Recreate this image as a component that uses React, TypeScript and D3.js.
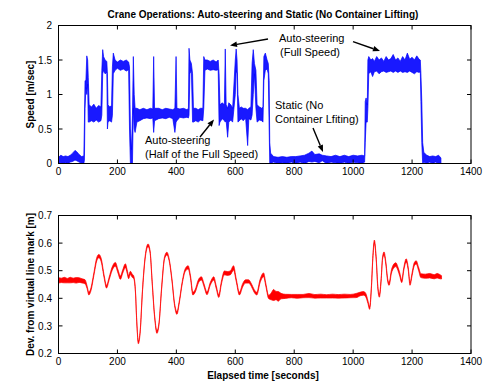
import React from "react";
import * as d3 from "d3";

// ---------- data ----------
const xTicks = [0, 200, 400, 600, 800, 1000, 1200, 1400];
const speedTicks = [0, 0.5, 1, 1.5, 2];
const devTicks = [0.2, 0.3, 0.4, 0.5, 0.6, 0.7];

// speed envelope: [time s, low m/s, high m/s]
const speedBand: [number, number, number][] = [
  [0,0.0,0.09],[8,0.01,0.12],[16,0.0,0.1],[24,0.01,0.11],[32,0.0,0.1],[40,0.02,0.12],[48,0.03,0.15],[56,0.05,0.19],[62,0.04,0.17],[70,0.02,0.13],[78,0.0,0.1],[86,0.0,0.11],
  [88,0.05,0.6],[90,0.8,1.2],[93,1.1,1.2],[96,1.0,1.56],[99,1.15,1.5],[101,0.6,1.25],
  [104,0.6,0.85],[112,0.62,0.82],[120,0.6,0.86],[128,0.63,0.8],[136,0.6,0.84],[144,0.62,0.82],
  [147,0.7,1.35],[150,1.3,1.65],[153,1.35,1.55],[158,1.3,1.5],[164,1.32,1.48],
  [166,0.5,1.3],[168,0.6,0.85],[174,0.62,0.82],[180,0.6,0.84],
  [183,0.7,1.4],[186,1.3,1.6],[192,1.35,1.5],[200,1.38,1.47],[210,1.35,1.5],[220,1.37,1.48],[230,1.34,1.5],[238,1.36,1.47],
  [241,0.5,1.4],[244,0.0,0.5],[248,0.0,0.2],[251,0.0,0.7],[254,0.8,1.55],[257,0.5,1.0],
  [260,0.45,0.8],[266,0.6,0.8],[276,0.62,0.78],[288,0.65,0.8],[300,0.66,0.78],[312,0.65,0.8],[320,0.66,0.79],
  [323,0.45,1.55],[326,0.62,0.8],[340,0.65,0.8],[352,0.66,0.78],[364,0.65,0.8],[376,0.67,0.79],[388,0.65,0.78],[395,0.45,0.8],
  [399,0.6,1.55],[402,0.62,0.8],[412,0.67,0.79],[424,0.66,0.8],[436,0.67,0.78],[441,0.66,0.8],
  [443,0.7,1.67],[446,1.3,1.5],[451,1.35,1.45],[455,0.6,1.3],[458,0.6,0.8],[466,0.62,0.8],[474,0.6,0.78],[482,0.63,0.8],[490,0.62,0.8],
  [493,0.8,1.55],[497,1.35,1.5],[505,1.37,1.5],[515,1.35,1.48],[525,1.36,1.5],[535,1.35,1.47],[542,1.36,1.5],
  [545,0.55,1.3],[548,0.6,0.85],[556,0.65,0.88],[563,0.62,0.85],
  [566,0.6,1.66],[569,0.62,0.85],[574,0.38,0.8],[578,0.6,0.88],[585,0.63,0.85],[591,0.6,0.8],
  [600,1.0,1.5],[603,1.35,1.66],[606,1.3,1.5],[609,0.6,1.0],[614,0.62,0.8],[620,0.65,0.82],[627,0.62,0.8],[635,0.66,0.8],
  [642,0.26,0.78],[646,0.65,0.8],[653,0.63,0.82],
  [657,0.7,1.45],[661,1.0,1.65],[665,1.3,1.45],[670,0.8,1.35],[674,0.6,0.85],[682,0.63,0.82],[690,0.62,0.8],[694,0.6,0.82],
  [697,1.2,1.55],[702,1.35,1.6],[708,1.37,1.5],[712,1.3,1.45],[715,0.5,1.2],[717,0.0,0.3],
  [720,0.0,0.15],[730,0.02,0.1],[745,0.0,0.09],[760,0.01,0.1],[775,0.0,0.09],[790,0.02,0.1],[805,0.0,0.1],[820,0.02,0.11],[835,0.0,0.12],[850,0.03,0.15],[860,0.02,0.18],[870,0.03,0.13],[885,0.01,0.14],[895,0.04,0.12],[910,0.0,0.11],[925,0.02,0.1],[940,0.01,0.12],[955,0.0,0.1],[970,0.02,0.12],[985,0.0,0.1],[1000,0.02,0.12],[1015,0.01,0.11],[1030,0.0,0.12],[1039,0.02,0.11],
  [1041,0.3,0.9],[1044,0.6,0.95],[1048,0.6,0.85],[1050,0.8,1.5],[1053,1.3,1.55],[1060,1.33,1.5],[1066,1.26,1.52],[1072,1.33,1.48],[1080,1.34,1.55],[1088,1.3,1.5],[1096,1.33,1.53],[1104,1.34,1.48],[1112,1.32,1.55],[1120,1.33,1.5],[1128,1.34,1.52],[1136,1.32,1.58],[1144,1.34,1.5],[1152,1.32,1.53],[1160,1.34,1.48],[1168,1.32,1.55],[1176,1.33,1.5],[1184,1.32,1.6],[1192,1.34,1.51],[1200,1.32,1.54],[1208,1.3,1.5],[1216,1.33,1.56],[1224,1.32,1.51],[1228,1.33,1.5],
  [1230,0.9,1.3],[1233,0.3,0.9],[1236,0.0,0.3],[1240,0.02,0.16],[1250,0.0,0.12],[1260,0.02,0.1],[1270,0.0,0.11],[1280,0.02,0.1],[1290,0.0,0.12],[1298,0.0,0.08],
];

// deviation: [time s, centre m, band width m]
const devBand: [number, number, number][] = [
  [0,0.465,0.02],[10,0.465,0.016],[20,0.466,0.02],[30,0.464,0.016],[40,0.466,0.02],[50,0.465,0.016],[60,0.465,0.02],[70,0.466,0.017],[80,0.463,0.015],[90,0.46,0.015],
  [97,0.44,0.01],[103,0.417,0.01],[110,0.432,0.01],[120,0.487,0.01],[130,0.542,0.012],[137,0.553,0.012],[145,0.538,0.012],[155,0.478,0.01],[163,0.442,0.01],[172,0.472,0.01],[182,0.507,0.012],[193,0.523,0.014],[202,0.497,0.012],[210,0.475,0.012],[218,0.497,0.012],[227,0.518,0.014],[233,0.497,0.012],[238,0.477,0.012],[244,0.492,0.012],[250,0.482,0.012],[255,0.477,0.01],
  [261,0.427,0.008],[266,0.307,0.008],[271,0.24,0.01],[277,0.277,0.008],[285,0.427,0.008],[294,0.547,0.008],[304,0.592,0.01],[311,0.567,0.008],[318,0.457,0.008],[326,0.337,0.008],[334,0.278,0.01],[341,0.307,0.008],[350,0.437,0.008],[360,0.547,0.008],[368,0.562,0.01],[376,0.537,0.008],[385,0.467,0.008],[394,0.377,0.008],[402,0.347,0.01],[410,0.387,0.008],[420,0.457,0.008],[430,0.502,0.01],[440,0.512,0.012],[448,0.477,0.01],[456,0.417,0.01],[464,0.427,0.01],[475,0.462,0.012],[485,0.472,0.012],[494,0.447,0.01],[504,0.418,0.01],[515,0.452,0.01],[527,0.472,0.012],[535,0.442,0.01],[544,0.408,0.01],[553,0.457,0.01],[563,0.492,0.014],[573,0.49,0.014],[583,0.492,0.014],[594,0.51,0.016],[603,0.467,0.01],[614,0.417,0.01],[625,0.447,0.012],[635,0.461,0.012],[645,0.461,0.012],[655,0.447,0.01],[664,0.427,0.01],[673,0.417,0.01],[684,0.462,0.012],[696,0.485,0.014],[704,0.447,0.01],[713,0.405,0.012],
  [722,0.407,0.025],[730,0.412,0.04],[738,0.41,0.03],[746,0.407,0.035],[755,0.408,0.02],[770,0.407,0.015],[790,0.408,0.012],[810,0.407,0.014],[830,0.408,0.012],[850,0.41,0.015],[870,0.407,0.013],[890,0.408,0.014],[910,0.407,0.012],[930,0.408,0.014],[950,0.407,0.013],[970,0.408,0.014],[990,0.408,0.012],[1010,0.41,0.015],
  [1025,0.416,0.013],[1035,0.418,0.013],[1043,0.411,0.013],[1050,0.387,0.01],[1056,0.365,0.01],[1062,0.44,0.01],[1067,0.55,0.01],[1072,0.605,0.012],[1078,0.547,0.01],[1084,0.437,0.01],[1089,0.409,0.01],[1095,0.467,0.01],[1100,0.547,0.01],[1105,0.562,0.012],[1111,0.527,0.01],[1117,0.467,0.01],[1122,0.452,0.01],[1130,0.497,0.012],[1138,0.517,0.014],[1145,0.522,0.014],[1152,0.507,0.012],[1158,0.487,0.012],[1165,0.462,0.01],[1172,0.507,0.01],[1180,0.537,0.012],[1187,0.507,0.01],[1193,0.452,0.01],[1200,0.487,0.01],[1207,0.522,0.012],[1214,0.53,0.012],[1222,0.507,0.012],[1230,0.482,0.014],[1245,0.48,0.015],[1260,0.482,0.016],[1275,0.478,0.015],[1285,0.482,0.016],[1295,0.478,0.015],[1300,0.476,0.012],
];

// ---------- layout ----------
const W = 489, H = 381;
const L = 58.5, R = 471;
const top1 = 25.5, bot1 = 163.5;
const top2 = 215.5, bot2 = 353.5;
const FONT = "'Liberation Sans', Arial, Helvetica, sans-serif";
const TICK = 4;

const x = d3.scaleLinear().domain([0, 1400]).range([L, R]);
const ySpeed = d3.scaleLinear().domain([0, 2]).range([bot1, top1]);
const yDev = d3.scaleLinear().domain([0.2, 0.7]).range([bot2, top2]);

const speedArea = d3.area<[number, number, number]>()
  .x((d) => x(d[0]))
  .y0((d) => ySpeed(d[1]))
  .y1((d) => ySpeed(d[2]));

const devArea = d3.area<[number, number, number]>()
  .x((d) => x(d[0]))
  .y0((d) => yDev(d[1] - d[2] / 2))
  .y1((d) => yDev(d[1] + d[2] / 2))
  .curve(d3.curveMonotoneX);

function fmt(v: number) {
  return String(Math.round(v * 10) / 10);
}

function Frame({ y, top, bot, yt }: { y: d3.ScaleLinear<number, number>; top: number; bot: number; yt: number[] }) {
  return (
    <g>
      <rect x={L} y={top} width={R - L} height={bot - top} fill="none" stroke="#000" strokeWidth={1} />
      {xTicks.map((t) => (
        <g key={"x" + t}>
          <line x1={x(t)} x2={x(t)} y1={bot} y2={bot - TICK} stroke="#000" />
          <line x1={x(t)} x2={x(t)} y1={top} y2={top + TICK} stroke="#000" />
          <text x={x(t)} y={bot + 11} textAnchor="middle" fontSize={10} fontFamily={FONT}>{t}</text>
        </g>
      ))}
      {yt.map((v) => (
        <g key={"y" + v}>
          <line x1={L} x2={L + TICK} y1={y(v)} y2={y(v)} stroke="#000" />
          <line x1={R} x2={R - TICK} y1={y(v)} y2={y(v)} stroke="#000" />
          <text x={52} y={y(v) + 3.6} textAnchor="end" fontSize={10} fontFamily={FONT}>{fmt(v)}</text>
        </g>
      ))}
    </g>
  );
}

function Arrow({ x1, y1, x2, y2 }: { x1: number; y1: number; x2: number; y2: number }) {
  const a = Math.atan2(y2 - y1, x2 - x1);
  const len = 7, half = 2.8;
  const bx = x2 - len * Math.cos(a), by = y2 - len * Math.sin(a);
  const p1 = [bx + half * Math.sin(a), by - half * Math.cos(a)];
  const p2 = [bx - half * Math.sin(a), by + half * Math.cos(a)];
  return (
    <g>
      <line x1={x1} y1={y1} x2={bx} y2={by} stroke="#000" strokeWidth={1.4} />
      <polygon points={`${x2},${y2} ${p1[0]},${p1[1]} ${p2[0]},${p2[1]}`} fill="#000" />
    </g>
  );
}

export default function App() {
  return (
    <svg width={W} height={H} style={{ position: "absolute", left: 0, top: 0, background: "#fff" }}>
      <rect width={W} height={H} fill="#fff" />
      <text x={263} y={17.5} textAnchor="middle" fontSize={10} fontWeight="bold" fontFamily={FONT}>
        Crane Operations: Auto-steering and Static (No Container Lifting)
      </text>

      <path d={speedArea(speedBand) || ""} fill="#0000ff" fillOpacity={0.9} stroke="#0000ff" strokeWidth={0.7} strokeLinejoin="round" />
      <Frame y={ySpeed} top={top1} bot={bot1} yt={speedTicks} />
      <text transform={`translate(33.5, ${(top1 + bot1) / 2}) rotate(-90)`} textAnchor="middle" fontSize={10} fontWeight="bold" fontFamily={FONT}>
        Speed [m/sec]
      </text>

      <g fontSize={11} fontFamily={FONT}>
        <text x={279} y={41.7}>Auto-steering</text>
        <text x={280} y={55.7}>(Full Speed)</text>
        <text x={275} y={109}>Static (No</text>
        <text x={275} y={122.7}>Container Lfiting)</text>
        <text x={145} y={144.3}>Auto-steering</text>
        <text x={145} y={157.7}>(Half of the Full Speed)</text>
      </g>
      <Arrow x1={268} y1={39} x2={230} y2={45.5} />
      <Arrow x1={353} y1={41.7} x2={380} y2={51} />
      <Arrow x1={313} y1={128} x2={323} y2={152} />
      <Arrow x1={200} y1={137} x2={214} y2={119.5} />

      <path d={devArea(devBand) || ""} fill="#ff0000" stroke="#ff0000" strokeWidth={0.7} strokeLinejoin="round" />
      <Frame y={yDev} top={top2} bot={bot2} yt={devTicks} />
      <text transform={`translate(33.5, ${(top2 + bot2) / 2}) rotate(-90)`} textAnchor="middle" fontSize={10} fontWeight="bold" fontFamily={FONT}>
        Dev. from virtual line mark [m]
      </text>
      <text x={263} y={378.5} textAnchor="middle" fontSize={10} fontWeight="bold" fontFamily={FONT}>
        Elapsed time [seconds]
      </text>
    </svg>
  );
}
